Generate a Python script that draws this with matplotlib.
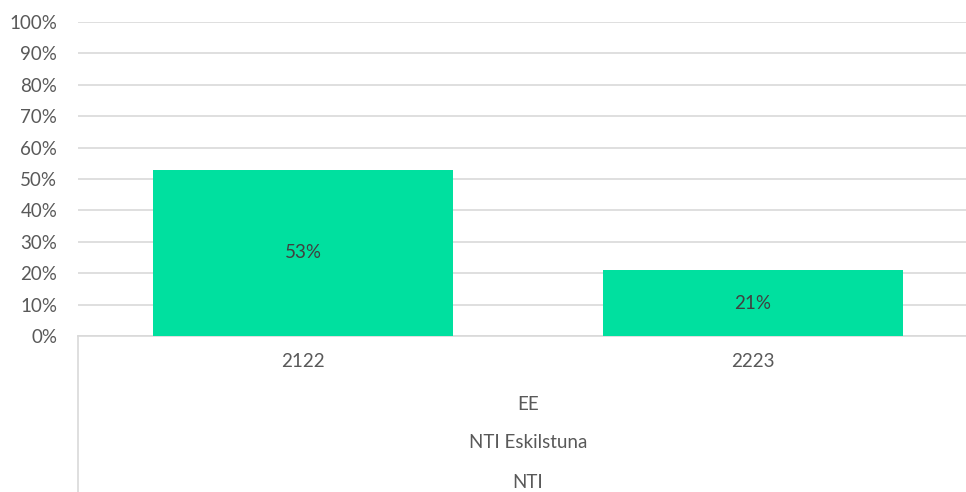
import matplotlib.pyplot as plt
from matplotlib.lines import Line2D

# Data
years = ['2122', '2223']
values = [53, 21]
levels = ['EE', 'NTI Eskilstuna', 'NTI']

text_col = '#595959'
grid_col = '#d9d9d9'
bar_col = '#00e09f'

plt.rcParams['font.family'] = ['Lato', 'DejaVu Sans']
fs = 13.5

fig = plt.figure(figsize=(9.66, 4.92), dpi=100)
ax = fig.add_axes([78 / 966, 156 / 492, 900 / 966, 314 / 492])

x = range(len(years))
bars = ax.bar(x, values, width=0.667, color=bar_col, zorder=3)
for b, v in zip(bars, values):
    ax.text(b.get_x() + b.get_width() / 2, v / 2, f'{v}%', ha='center', va='center',
            color='#404040', fontsize=fs, zorder=4)

ax.set_xlim(-0.5, 1.5)
ax.set_ylim(0, 100)
ax.set_yticks(range(0, 101, 10))
ax.set_yticklabels([f'{t}%' for t in range(0, 101, 10)])
ax.set_xticks(list(x))
ax.set_xticklabels(years)
ax.tick_params(axis='y', length=0, pad=15, labelsize=fs, labelcolor=text_col)
ax.tick_params(axis='x', length=0, pad=12, labelsize=fs, labelcolor=text_col)
ax.grid(axis='y', color=grid_col, lw=1.2, zorder=0)
for s in ['top', 'right', 'left']:
    ax.spines[s].set_visible(False)
ax.spines['bottom'].set_color(grid_col)
ax.spines['bottom'].set_linewidth(1.2)

# left separator line going down through the category rows
fig.add_artist(Line2D([78 / 966, 78 / 966], [0, 156 / 492], color=grid_col, lw=1.2))

# outer category levels
for lab, ypix in zip(levels, [405, 443, 483]):
    fig.text(528 / 966, 1 - ypix / 492, lab, ha='center', va='center',
             color=text_col, fontsize=fs)

fig.savefig('out.png', dpi=100)
